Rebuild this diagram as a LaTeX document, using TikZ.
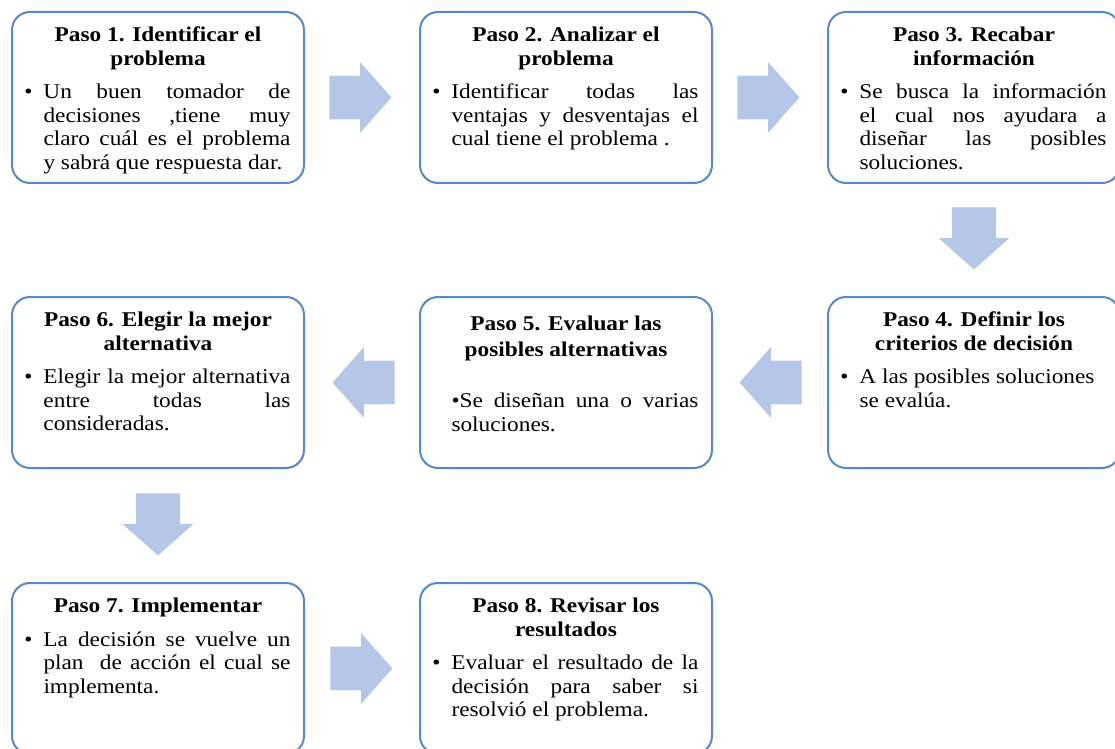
\documentclass[tikz,border=0pt]{standalone}
\usepackage{fontspec}
\setmainfont{Liberation Serif}[FakeStretch=1.11]
\usetikzlibrary{positioning,shapes.arrows,calc}

\definecolor{bordeazul}{RGB}{84,138,202}
\definecolor{flechaazul}{RGB}{180,199,231}

\newcommand{\bul}{\noindent\llap{\textbullet\hspace{5.5pt}}}
\newcommand{\paso}[3][0pt]{\parbox[c][72pt][t]{132.5pt}{\vspace*{#1}{\centering\bfseries\strut #2\par}\vspace{5pt}{\leftskip=9pt #3\par}}}
\tolerance=10000
\hyphenpenalty=10000

\tikzset{
    pasobox/.style={draw=bordeazul, line width=1pt, rounded corners=9pt, fill=white,
        minimum width=146pt, minimum height=85.5pt, inner sep=0pt, outer sep=0pt,
        font=\fontsize{10.5pt}{11.75pt}\selectfont},
    flecha/.style={single arrow, draw=none, fill=flechaazul, minimum height=31pt,
        inner xsep=0pt, inner ysep=10.75pt, single arrow head extend=6.75pt,
        single arrow tip angle=97, anchor=tail}
}

\begin{document}
\begin{tikzpicture}[x=0.5pt, y=-0.5pt, node distance=58pt]
    \useasboundingbox (0,0) rectangle (1115,749);

    % Row 1
    \node[pasobox] (p1) at (158,97.5) {\paso{Paso 1. Identificar el\\problema}{\bul Un buen tomador de\linebreak decisiones ,tiene muy\linebreak claro cuál es el problema\linebreak y sabrá que respuesta dar.}};
    \node[pasobox, right=of p1] (p2) {\paso{Paso 2. Analizar el\\problema}{\bul Identificar todas las\linebreak ventajas y desventajas el\linebreak cual tiene el problema .}};
    \node[pasobox, right=of p2] (p3) {\paso{Paso 3. Recabar\\información}{\bul Se busca la información\linebreak el cual nos ayudara a\linebreak diseñar las posibles\linebreak soluciones.}};

    % Row 2 (right to left)
    \node[pasobox, below=57pt of p3] (p4) {\paso{Paso 4. Definir los\\criterios de decisión}{\bul A las posibles soluciones\\ se evalúa.}};
    \node[pasobox, left=of p4] (p5) {\paso[2pt]{Paso 5. Evaluar las\\[1pt]posibles alternativas}{\vspace{9pt}\noindent\textbullet Se diseñan una o varias\linebreak soluciones.}};
    \node[pasobox, left=of p5] (p6) {\paso{Paso 6. Elegir la mejor\\alternativa}{\bul Elegir la mejor alternativa\linebreak entre todas las\linebreak consideradas.}};

    % Row 3
    \node[pasobox, below=57.5pt of p6] (p7) {\paso{Paso 7. Implementar}{\bul La decisión se vuelve un\linebreak plan~ de acción el cual se\linebreak implementa.}};
    \node[pasobox, right=of p7] (p8) {\paso{Paso 8. Revisar los\\resultados}{\bul Evaluar el resultado de la\linebreak decisión para saber si\linebreak resolvió el problema.}};

    % Block arrows between steps (tail 25px off the box)
    \node[flecha] (f12) at ($(p1.east)+(25,0)$) {};
    \node[flecha] (f23) at ($(p2.east)+(25,0)$) {};
    \node[flecha, rotate=-90] (f34) at ($(p3.south)+(0,24)$) {};
    \node[flecha, rotate=180] (f45) at ($(p4.west)+(-26,0)$) {};
    \node[flecha, rotate=180] (f56) at ($(p5.west)+(-25,0)$) {};
    \node[flecha, rotate=-90] (f67) at ($(p6.south)+(0,25)$) {};
    \node[flecha] (f78) at ($(p7.east)+(26,0)$) {};
\end{tikzpicture}
\end{document}
